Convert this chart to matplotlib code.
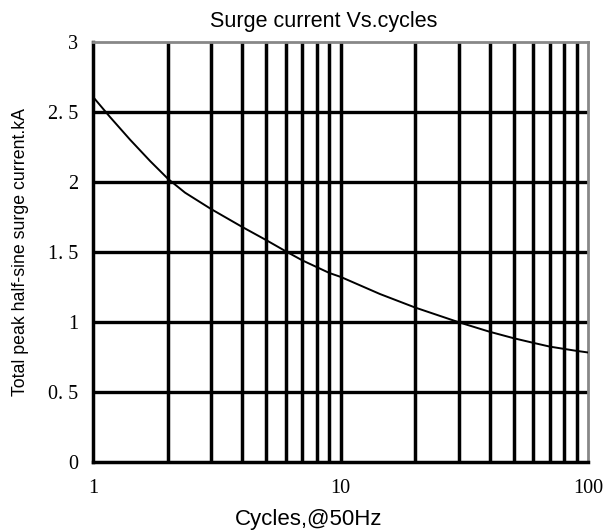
import matplotlib
matplotlib.use("Agg")
import matplotlib.pyplot as plt
from matplotlib.ticker import FixedLocator, NullFormatter

# cycles and surge current (kA)
cycles = [1, 1.17, 1.41, 1.7, 2.01, 2.35, 3, 4, 5, 6, 7, 9, 10,
          14.4, 20, 30, 40, 50, 60, 70, 88, 100]
current = [2.607, 2.464, 2.302, 2.149, 2.021, 1.924, 1.806, 1.679, 1.585, 1.505, 1.44, 1.35, 1.322,
           1.2, 1.103, 0.998, 0.93, 0.884, 0.851, 0.824, 0.796, 0.782]

y_ticks = [0, 0.5, 1, 1.5, 2, 2.5, 3]
y_labels = ["0", "0. 5", "1", "1. 5", "2", "2. 5", "3"]
x_ticks = [1, 10, 100]
x_labels = ["1", "10", "100"]
x_minor = [2, 3, 4, 5, 6, 7, 8, 9, 20, 30, 40, 50, 60, 70, 80, 90]

fig = plt.figure(figsize=(6.09, 5.32), dpi=100)
ax = fig.add_axes([0.153, 0.1316, 0.813, 0.7894])

ax.set_xscale("log")
ax.set_xlim(1, 100)
ax.set_ylim(0, 3)

# grid: thick black lines at every decade step and every 0.5 kA
for xv in x_minor + [10]:
    ax.axvline(xv, color="black", lw=2.5, zorder=1)
for yv in y_ticks[1:-1]:
    ax.axhline(yv, color="black", lw=2.4, zorder=1)

ax.plot(cycles, current, color="black", lw=1.4, zorder=3)

ax.set_xticks(x_ticks)
ax.set_xticklabels(x_labels, fontfamily="Liberation Serif", fontsize=14.5)
ax.xaxis.set_minor_locator(FixedLocator(x_minor))
ax.xaxis.set_minor_formatter(NullFormatter())
ax.set_yticks(y_ticks)
ax.set_yticklabels(y_labels, fontfamily="Liberation Serif", fontsize=14.5)
ax.tick_params(axis="y", which="both", length=0, pad=11)
ax.tick_params(axis="x", which="both", length=0, pad=12)

for side in ["left", "bottom"]:
    ax.spines[side].set_color("black")
    ax.spines[side].set_linewidth(2.5)
for side in ["top", "right"]:
    ax.spines[side].set_color("#888888")
    ax.spines[side].set_linewidth(2.0)

ax.set_title("Surge current Vs.cycles", fontfamily="Liberation Sans", fontsize=15.5, pad=11, x=0.465)
ax.set_xlabel("Cycles,@50Hz", fontfamily="Liberation Sans", fontsize=16, labelpad=8, x=0.436)
ax.set_ylabel("Total peak half-sine surge current.kA",
              fontfamily="Liberation Sans", fontsize=12.8)
ax.yaxis.set_label_coords(-0.13, 0.5)

fig.savefig("out.png", dpi=100)
